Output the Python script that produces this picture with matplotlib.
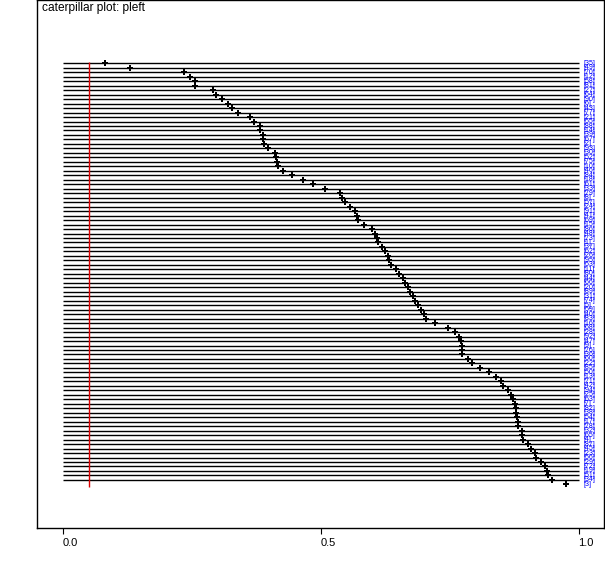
import numpy as np
import matplotlib
matplotlib.use("Agg")
import matplotlib.pyplot as plt
from matplotlib.transforms import ScaledTranslation

plt.rcParams['font.family'] = ['Liberation Sans', 'DejaVu Sans']

# node labels, top to bottom (sorted by posterior mean)
labels = [35, 49, 70, 12, 58, 81, 27, 64, 90, 6,
          43, 77, 21, 55, 88, 14, 39, 67, 2, 93,
          30, 52, 75, 10, 46, 84, 18, 61, 33, 79,
          8, 57, 24, 91, 41, 69, 15, 86, 48, 73,
          1, 37, 62, 26, 95, 53, 11, 80, 44, 66,
          20, 89, 31, 74, 5, 59, 40, 83, 16, 68,
          28, 92, 47, 9, 76, 36, 60, 22, 85, 50,
          13, 71, 42, 94, 25, 63, 7, 82, 38, 54,
          17, 78, 32, 65, 4, 87, 45, 23, 56, 29,
          72, 19, 51, 34, 3]

means = [0.081, 0.129, 0.233, 0.245, 0.255, 0.255, 0.290, 0.295, 0.308, 0.319,
         0.326, 0.339, 0.362, 0.370, 0.381, 0.382, 0.387, 0.387, 0.389, 0.397,
         0.410, 0.413, 0.414, 0.417, 0.426, 0.443, 0.465, 0.484, 0.507, 0.536,
         0.540, 0.546, 0.555, 0.565, 0.569, 0.571, 0.583, 0.598, 0.604, 0.608,
         0.610, 0.618, 0.623, 0.629, 0.631, 0.635, 0.645, 0.651, 0.658, 0.662,
         0.668, 0.672, 0.678, 0.681, 0.687, 0.693, 0.699, 0.703, 0.720, 0.745,
         0.759, 0.767, 0.771, 0.773, 0.773, 0.773, 0.784, 0.792, 0.807, 0.825,
         0.839, 0.848, 0.852, 0.862, 0.868, 0.872, 0.876, 0.877, 0.877, 0.879,
         0.881, 0.881, 0.889, 0.889, 0.891, 0.900, 0.906, 0.914, 0.917, 0.926,
         0.934, 0.937, 0.939, 0.948, 0.974]

# 95% intervals (the last node has none drawn)
lower = [0.0] * 94
upper = [1.0] * 94

ref_value = 0.05

fig = plt.figure(figsize=(6.05, 5.67), dpi=100)
ax = fig.add_axes([37 / 605, 39 / 567, 567 / 605, 528 / 567])

n = len(means)
pos = np.arange(n)

ax.hlines(pos[:len(lower)], lower, upper, color='black', lw=1.0)
ax.vlines(ref_value, -0.4, n - 0.5, color='#dd0000', lw=1.0)
ax.plot(means, pos, 'P', color='black', ms=4.8, mew=0)

for i, lab in enumerate(labels):
    ax.text(1.008, i, f'[{lab}]', color='blue', fontsize=5,
            va='center', ha='left')

ax.set_xlim(-0.051, 1.048)
ax.set_ylim(103.73, -14.13)
ax.set_yticks([])
ax.set_xticks([0.0, 0.5, 1.0])
ax.set_xticklabels(['0.0', '0.5', '1.0'], fontsize=8)
ax.tick_params(axis='x', direction='out', length=4, width=0.8)
for t in ax.get_xticklabels():
    t.set_transform(t.get_transform() + ScaledTranslation(7 / 100, 0, fig.dpi_scale_trans))
for s in ax.spines.values():
    s.set_linewidth(1.0)

ax.text(5 / 567, 1 - 8 / 528, 'caterpillar plot: pleft', transform=ax.transAxes,
        fontsize=8.6, va='center', ha='left')

fig.savefig('out.png', dpi=100)
